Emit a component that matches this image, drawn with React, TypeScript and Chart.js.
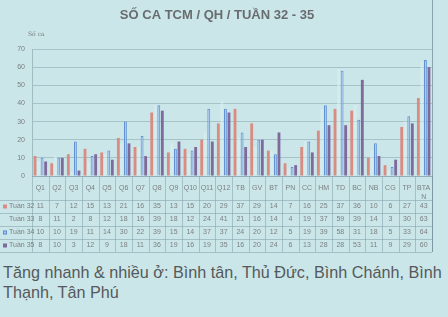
import React, { useEffect, useRef } from "react";
import { Chart, registerables } from "chart.js";

Chart.register(...registerables);

const categories = ["Q1", "Q2", "Q3", "Q4", "Q5", "Q6", "Q7", "Q8", "Q9", "Q10", "Q11", "Q12", "TB", "GV", "BT", "PN", "CC", "HM", "TD", "BC", "NB", "CG", "TP", "BTAN"];
const seriesNames = ["Tuần 32", "Tuần 33", "Tuần 34", "Tuần 35"];
const tuan32 = [11, 7, 12, 15, 13, 21, 16, 35, 13, 15, 20, 29, 37, 29, 14, 7, 16, 25, 37, 36, 10, 6, 27, 43];
const tuan33 = [8, 11, 2, 8, 12, 18, 16, 39, 18, 12, 24, 41, 21, 16, 14, 4, 19, 37, 59, 39, 14, 3, 30, 63];
const tuan34 = [10, 10, 19, 11, 14, 30, 22, 39, 15, 14, 37, 37, 24, 20, 12, 5, 19, 39, 58, 31, 18, 5, 33, 64];
const tuan35 = [8, 10, 3, 12, 9, 18, 11, 36, 19, 16, 19, 35, 16, 20, 24, 6, 13, 28, 28, 53, 11, 9, 29, 60];
const yMin = 0;
const yMax = 70;
const yStep = 10;

const titleText = "SỐ CA TCM / QH / TUẦN 32 - 35";
const yAxisLabel = "Số ca";
const noteLine1 = "Tăng nhanh & nhiều ở: Bình tân, Thủ Đức, Bình Chánh, Bình";
const noteLine2 = "Thạnh, Tân Phú";

const BG = "#cbe6e8";
const fills = ["#d98c82", "rgba(222,240,242,0.55)", "#a9c7ee", "#7e6b9c"];
const borders = ["#d98c82", "rgba(222,240,242,0.55)", "#5f8fd3", "#7e6b9c"];

export default function App() {
  const ref = useRef<HTMLCanvasElement>(null);

  useEffect(() => {
    document.body.style.margin = "0";
    document.body.style.background = BG;
    const allSeries = [tuan32, tuan33, tuan34, tuan35];

    const tablePlugin = {
      id: "dataTable",
      afterDraw(chart: any) {
        const { ctx, chartArea, scales } = chart;
        const xs = scales.x;
        const top = chartArea.bottom;
        const headerBottom = top + 24;
        const rowH = 13;
        const lineColor = "rgba(130,160,170,0.55)";
        ctx.save();
        ctx.strokeStyle = lineColor;
        ctx.lineWidth = 1;
        const hLines = [top, headerBottom];
        for (let r = 1; r <= allSeries.length; r++) hLines.push(headerBottom + r * rowH);
        hLines.forEach((y: number, i: number) => {
          ctx.beginPath();
          ctx.moveTo(i === 0 ? chartArea.left : 0, Math.round(y) + 0.5);
          ctx.lineTo(chartArea.right, Math.round(y) + 0.5);
          ctx.stroke();
        });
        const n = categories.length;
        const bottom = headerBottom + allSeries.length * rowH;
        for (let i = 0; i <= n; i++) {
          let xb;
          if (i === 0) xb = chartArea.left;
          else if (i === n) xb = chartArea.right;
          else xb = (xs.getPixelForTick(i - 1) + xs.getPixelForTick(i)) / 2;
          ctx.beginPath();
          ctx.moveTo(Math.round(xb) + 0.5, top);
          ctx.lineTo(Math.round(xb) + 0.5, bottom);
          ctx.stroke();
        }
        ctx.strokeStyle = "rgba(110,135,150,0.7)";
        ctx.beginPath();
        ctx.moveTo(Math.round(chartArea.right) + 0.5, 0);
        ctx.lineTo(Math.round(chartArea.right) + 0.5, bottom);
        ctx.stroke();

        ctx.font = "7px 'Liberation Sans', Arial, sans-serif";
        ctx.fillStyle = "#7a7f82";
        ctx.textAlign = "center";
        ctx.textBaseline = "middle";
        allSeries.forEach((vals, r) => {
          const cy = headerBottom + r * rowH + rowH / 2;
          vals.forEach((v, i) => {
            ctx.fillText(String(v), xs.getPixelForTick(i), cy);
          });
          if (r !== 1) {
            ctx.fillStyle = fills[r];
            ctx.fillRect(3, cy - 2, 4, 4);
            if (r === 2) {
              ctx.strokeStyle = borders[r];
              ctx.strokeRect(3.5, cy - 1.5, 3, 3);
            }
          }
          ctx.fillStyle = "#7a7f82";
          ctx.textAlign = "left";
          ctx.fillText(seriesNames[r], 9, cy);
          ctx.textAlign = "center";
        });

        ctx.font = "bold 13px 'Liberation Sans', Arial, sans-serif";
        ctx.fillStyle = "#686c70";
        ctx.textAlign = "center";
        ctx.fillText(titleText, 217, 15);
        ctx.font = "6px 'DejaVu Serif', serif";
        ctx.fillStyle = "#7a7f82";
        ctx.textAlign = "left";
        ctx.fillText(yAxisLabel, 28, 34);
        ctx.restore();
      },
    };

    const chart = new Chart(ref.current!, {
      type: "bar",
      data: {
        labels: categories,
        datasets: seriesNames.map((name, i) => ({
          label: name,
          data: allSeries[i],
          backgroundColor: fills[i],
          borderColor: borders[i],
          borderWidth: i === 2 ? 1 : 0,
          barPercentage: 0.8,
          categoryPercentage: 0.85,
        })),
      },
      options: {
        animation: false,
        responsive: true,
        maintainAspectRatio: false,
        layout: { padding: { top: 49, left: 0, right: 16, bottom: 56 } },
        plugins: {
          legend: { display: false },
          title: { display: false },
          tooltip: { enabled: false },
        },
        scales: {
          x: {
            grid: { display: false, drawTicks: false },
            border: { display: false },
            ticks: {
              padding: 8,
              autoSkip: false,
              maxRotation: 0,
              minRotation: 0,
              color: "#7a7f82",
              font: { size: 7, family: "'Liberation Sans', Arial, sans-serif" },
              callback: (_v: any, i: number) => (categories[i] === "BTAN" ? ["BTA", "N"] : categories[i]),
            },
            afterFit: (s: any) => {
              s.height = 24;
            },
          },
          y: {
            min: yMin,
            max: yMax,
            ticks: {
              stepSize: yStep,
              padding: 7,
              color: "#7a7f82",
              font: { size: 7, family: "'Liberation Sans', Arial, sans-serif" },
            },
            grid: { color: "rgba(130,160,170,0.5)", drawTicks: false },
            border: { display: true, color: "rgba(130,160,170,0.6)" },
            afterFit: (s: any) => {
              s.width = 32;
            },
          },
        },
      },
      plugins: [tablePlugin],
    });
    return () => chart.destroy();
  }, []);

  return (
    <div style={{ position: "relative", width: 448, height: 317, background: BG, overflow: "hidden" }}>
      <div style={{ position: "absolute", left: 0, top: 0, width: 448, height: 256 }}>
        <canvas ref={ref} />
      </div>
      <div
        style={{
          position: "absolute",
          left: 3,
          top: 262,
          width: 445,
          whiteSpace: "nowrap",
          fontFamily: "'Liberation Sans', Arial, sans-serif",
          fontSize: 16.2,
          lineHeight: "20px",
          color: "#55595c",
        }}
      >
        <div>{noteLine1}</div>
        <div>{noteLine2}</div>
      </div>
    </div>
  );
}
